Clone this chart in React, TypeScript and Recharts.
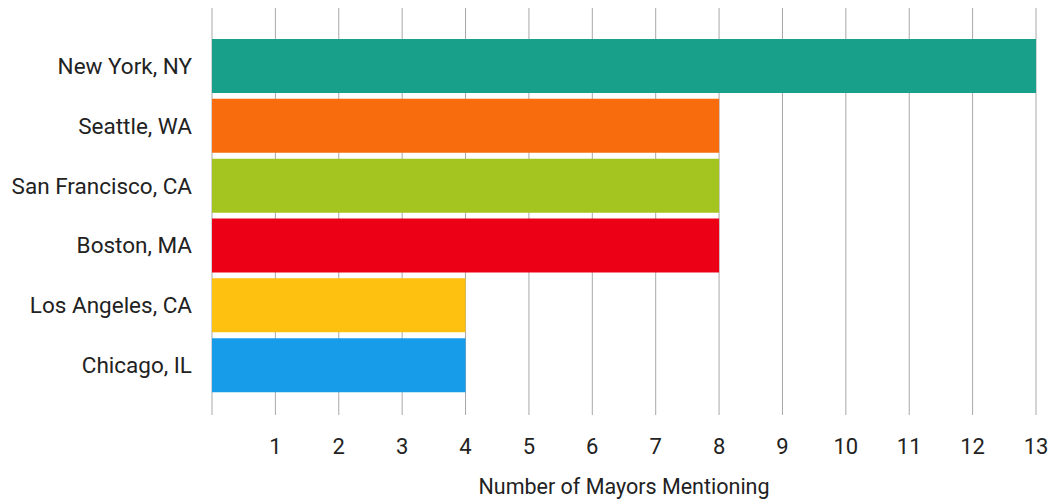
import React from 'react';
import { BarChart, Bar, XAxis, YAxis, CartesianGrid, Cell, Label } from 'recharts';

const cities = ['New York, NY', 'Seattle, WA', 'San Francisco, CA', 'Boston, MA', 'Los Angeles, CA', 'Chicago, IL'];
const mentions = [13, 8, 8, 8, 4, 4];
const colors = ['#18a08b', '#f96c0d', '#a4c520', '#ec0016', '#fec10f', '#179cea'];
const xTicks = [0, 1, 2, 3, 4, 5, 6, 7, 8, 9, 10, 11, 12, 13];

const data = cities.map((c, i) => ({ city: c, value: mentions[i] }));

const FONT = '"Liberation Sans Narrow", "Arial Narrow", Roboto, sans-serif';

export default function App() {
  return (
    <BarChart
      width={1055}
      height={494}
      data={data}
      layout="vertical"
      margin={{ top: 0, right: 27, left: 0, bottom: 0 }}
      barCategoryGap={3}
    >
      <CartesianGrid horizontal={false} stroke="#a8a8a8" />
      <XAxis
        type="number"
        domain={[0, 13]}
        ticks={xTicks}
        tickFormatter={(v: number) => (v === 0 ? '' : String(v))}
        axisLine={false}
        tickLine={false}
        tickSize={0}
        tickMargin={23}
        height={87}
        tick={{ fill: '#222', fontSize: 22, fontFamily: FONT }}
        interval={0}
      >
        <Label
          value="Number of Mayors Mentioning"
          position="insideBottom"
          offset={8}
          style={{ fill: '#222', fontSize: 21.5, fontFamily: FONT }}
        />
      </XAxis>
      <YAxis
        type="category"
        dataKey="city"
        width={204}
        axisLine={false}
        tickLine={false}
        tickSize={0}
        tickMargin={20}
        padding={{ top: 28, bottom: 20 }}
        tick={{ fill: '#222', fontSize: 22.5, fontFamily: FONT }}
        interval={0}
      />
      <Bar dataKey="value" isAnimationActive={false}>
        {data.map((d, i) => (
          <Cell key={d.city} fill={colors[i]} />
        ))}
      </Bar>
    </BarChart>
  );
}
